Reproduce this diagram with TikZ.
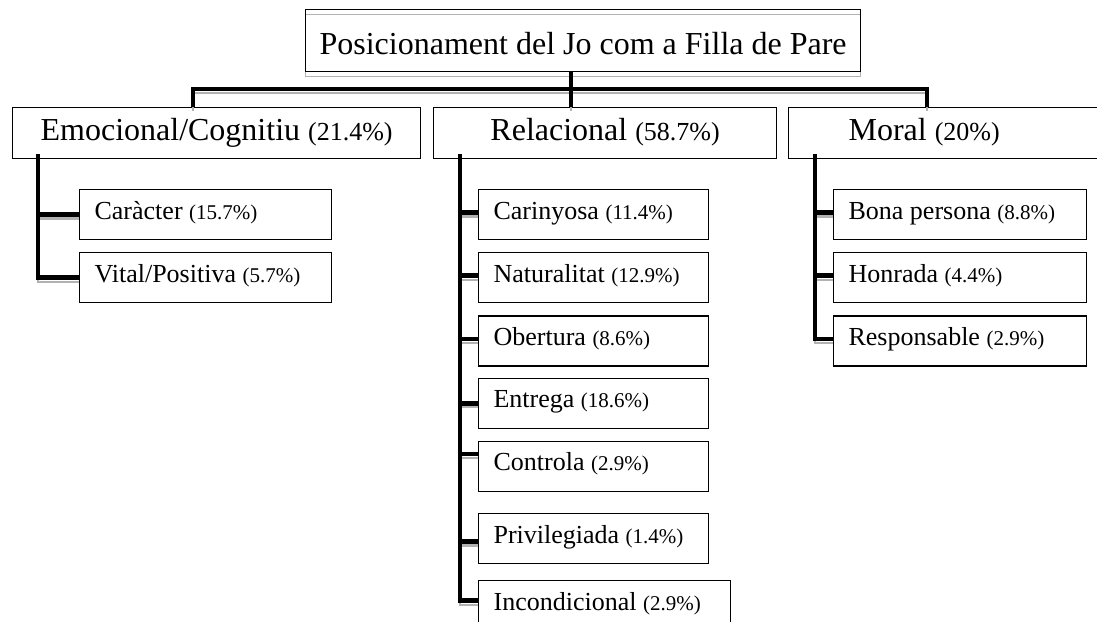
\documentclass[tikz,border=0pt]{standalone}
\usepackage{fontspec}
\setmainfont{Liberation Serif}
\usetikzlibrary{calc,positioning}

\newcommand{\pcbig}[1]{{\fontsize{13}{15}\selectfont(#1\%)}}
\newcommand{\pcsmall}[1]{{\fontsize{10.5}{12}\selectfont(#1\%)}}

\begin{document}
\begin{tikzpicture}[
  x=0.5pt, y=-0.5pt,
  box/.style={rectangle,draw=black,line width=0.6pt,inner sep=0pt,anchor=north west},
  topbox/.style={box,minimum width=277.5pt,minimum height=31pt,text height=14pt,text depth=0pt,
    font=\fontsize{16}{19}\selectfont,
    preaction={draw=black!30,line width=0.8pt,transform canvas={yshift=-2.5pt}}},
  mainbox/.style={box,minimum height=25.5pt,text height=11pt,text depth=3.5pt,font=\fontsize{16}{19}\selectfont},
  subbox/.style={box,minimum height=25pt,inner xsep=7.5pt,align=flush left,text height=9.5pt,text depth=5pt,
    font=\fontsize{13}{15}\selectfont},
  link/.style={line width=2.4pt,preaction={draw=black!30,line width=1.2pt,transform canvas={yshift=-2pt}}},
  ]

  \useasboundingbox (0,0) rectangle (1097,621);
  \clip (0,0) rectangle (1097,621);

  \node (title) [topbox] at (305,9) {Posicionament del Jo com a Filla de Pare};

  \node (emo) [mainbox,minimum width=204pt] at (12,107) {Emocional/Cognitiu \pcbig{21.4}};
  \node (rel) [mainbox,minimum width=171.5pt] at (433,107) {Relacional \pcbig{58.7}};
  \node (mor) [mainbox,inner xsep=30pt,text width=130pt,align=flush left] at (788,107) {Moral \pcbig{20}};

  % emocional / cognitiu
  \node (emo_1) [subbox,text width=111pt] at (79,189) {Caràcter \pcsmall{15.7}};
  \node (emo_2) [subbox,text width=111pt,below=6pt of emo_1.south west,anchor=north west] {Vital/Positiva \pcsmall{5.7}};

  % relacional
  \node (rel_1) [subbox,text width=100pt] at (478,189) {Carinyosa \pcsmall{11.4}};
  \foreach \i/\j/\gap/\txt/\pc in {2/1/6/Naturalitat/12.9,3/2/6/Obertura/8.6,4/3/5.5/Entrega/18.6,
    5/4/6/Controla/2.9,6/5/10.5/Privilegiada/1.4}
  {
    \node (rel_\i) [subbox,text width=100pt,below=\gap pt of rel_\j.south west,anchor=north west] {\txt\ \pcsmall{\pc}};
  }
  \node (rel_7) [subbox,text width=111pt,below=8pt of rel_6.south west,anchor=north west] {Incondicional \pcsmall{2.9}};

  % moral
  \node (mor_1) [subbox,text width=111.5pt] at (833,189) {Bona persona \pcsmall{8.8}};
  \foreach \i/\j/\txt/\pc in {2/1/Honrada/4.4,3/2/Responsable/2.9}
  {
    \node (mor_\i) [subbox,text width=111.5pt,below=6pt of mor_\j.south west,anchor=north west] {\txt\ \pcsmall{\pc}};
  }

  \coordinate (bus_emo) at ($(emo.north west)+(181,-18)$);
  \coordinate (bus_mor) at ($(mor.north west)+(139,-18)$);
  \coordinate (stub_title) at ($(title.south west)+(266,0)$);
  \draw[link] (emo.north -| bus_emo) -- (bus_emo) -- (bus_mor) -- (mor.north -| bus_mor)
    (stub_title) -- (stub_title |- rel.north);

  \coordinate (trunk_emo) at ($(emo.south west)+(26,-5)$);
  \coordinate (trunk_rel) at ($(rel.south west)+(27,-5)$);
  \coordinate (trunk_mor) at ($(mor.south west)+(27,-5)$);

  \draw[link] \foreach \i in {1,2} {(trunk_emo) |- (emo_\i.west)};
  \draw[link] \foreach \i/\dy in {1/1,2/1,3/1,4/0,5/6.25,6/-1.5,7/2.5} {(trunk_rel) |- ([yshift=\dy pt]rel_\i.west)};
  \draw[link] \foreach \i in {1,2,3} {(trunk_mor) |- ([yshift=1pt]mor_\i.west)};

\end{tikzpicture}
\end{document}
